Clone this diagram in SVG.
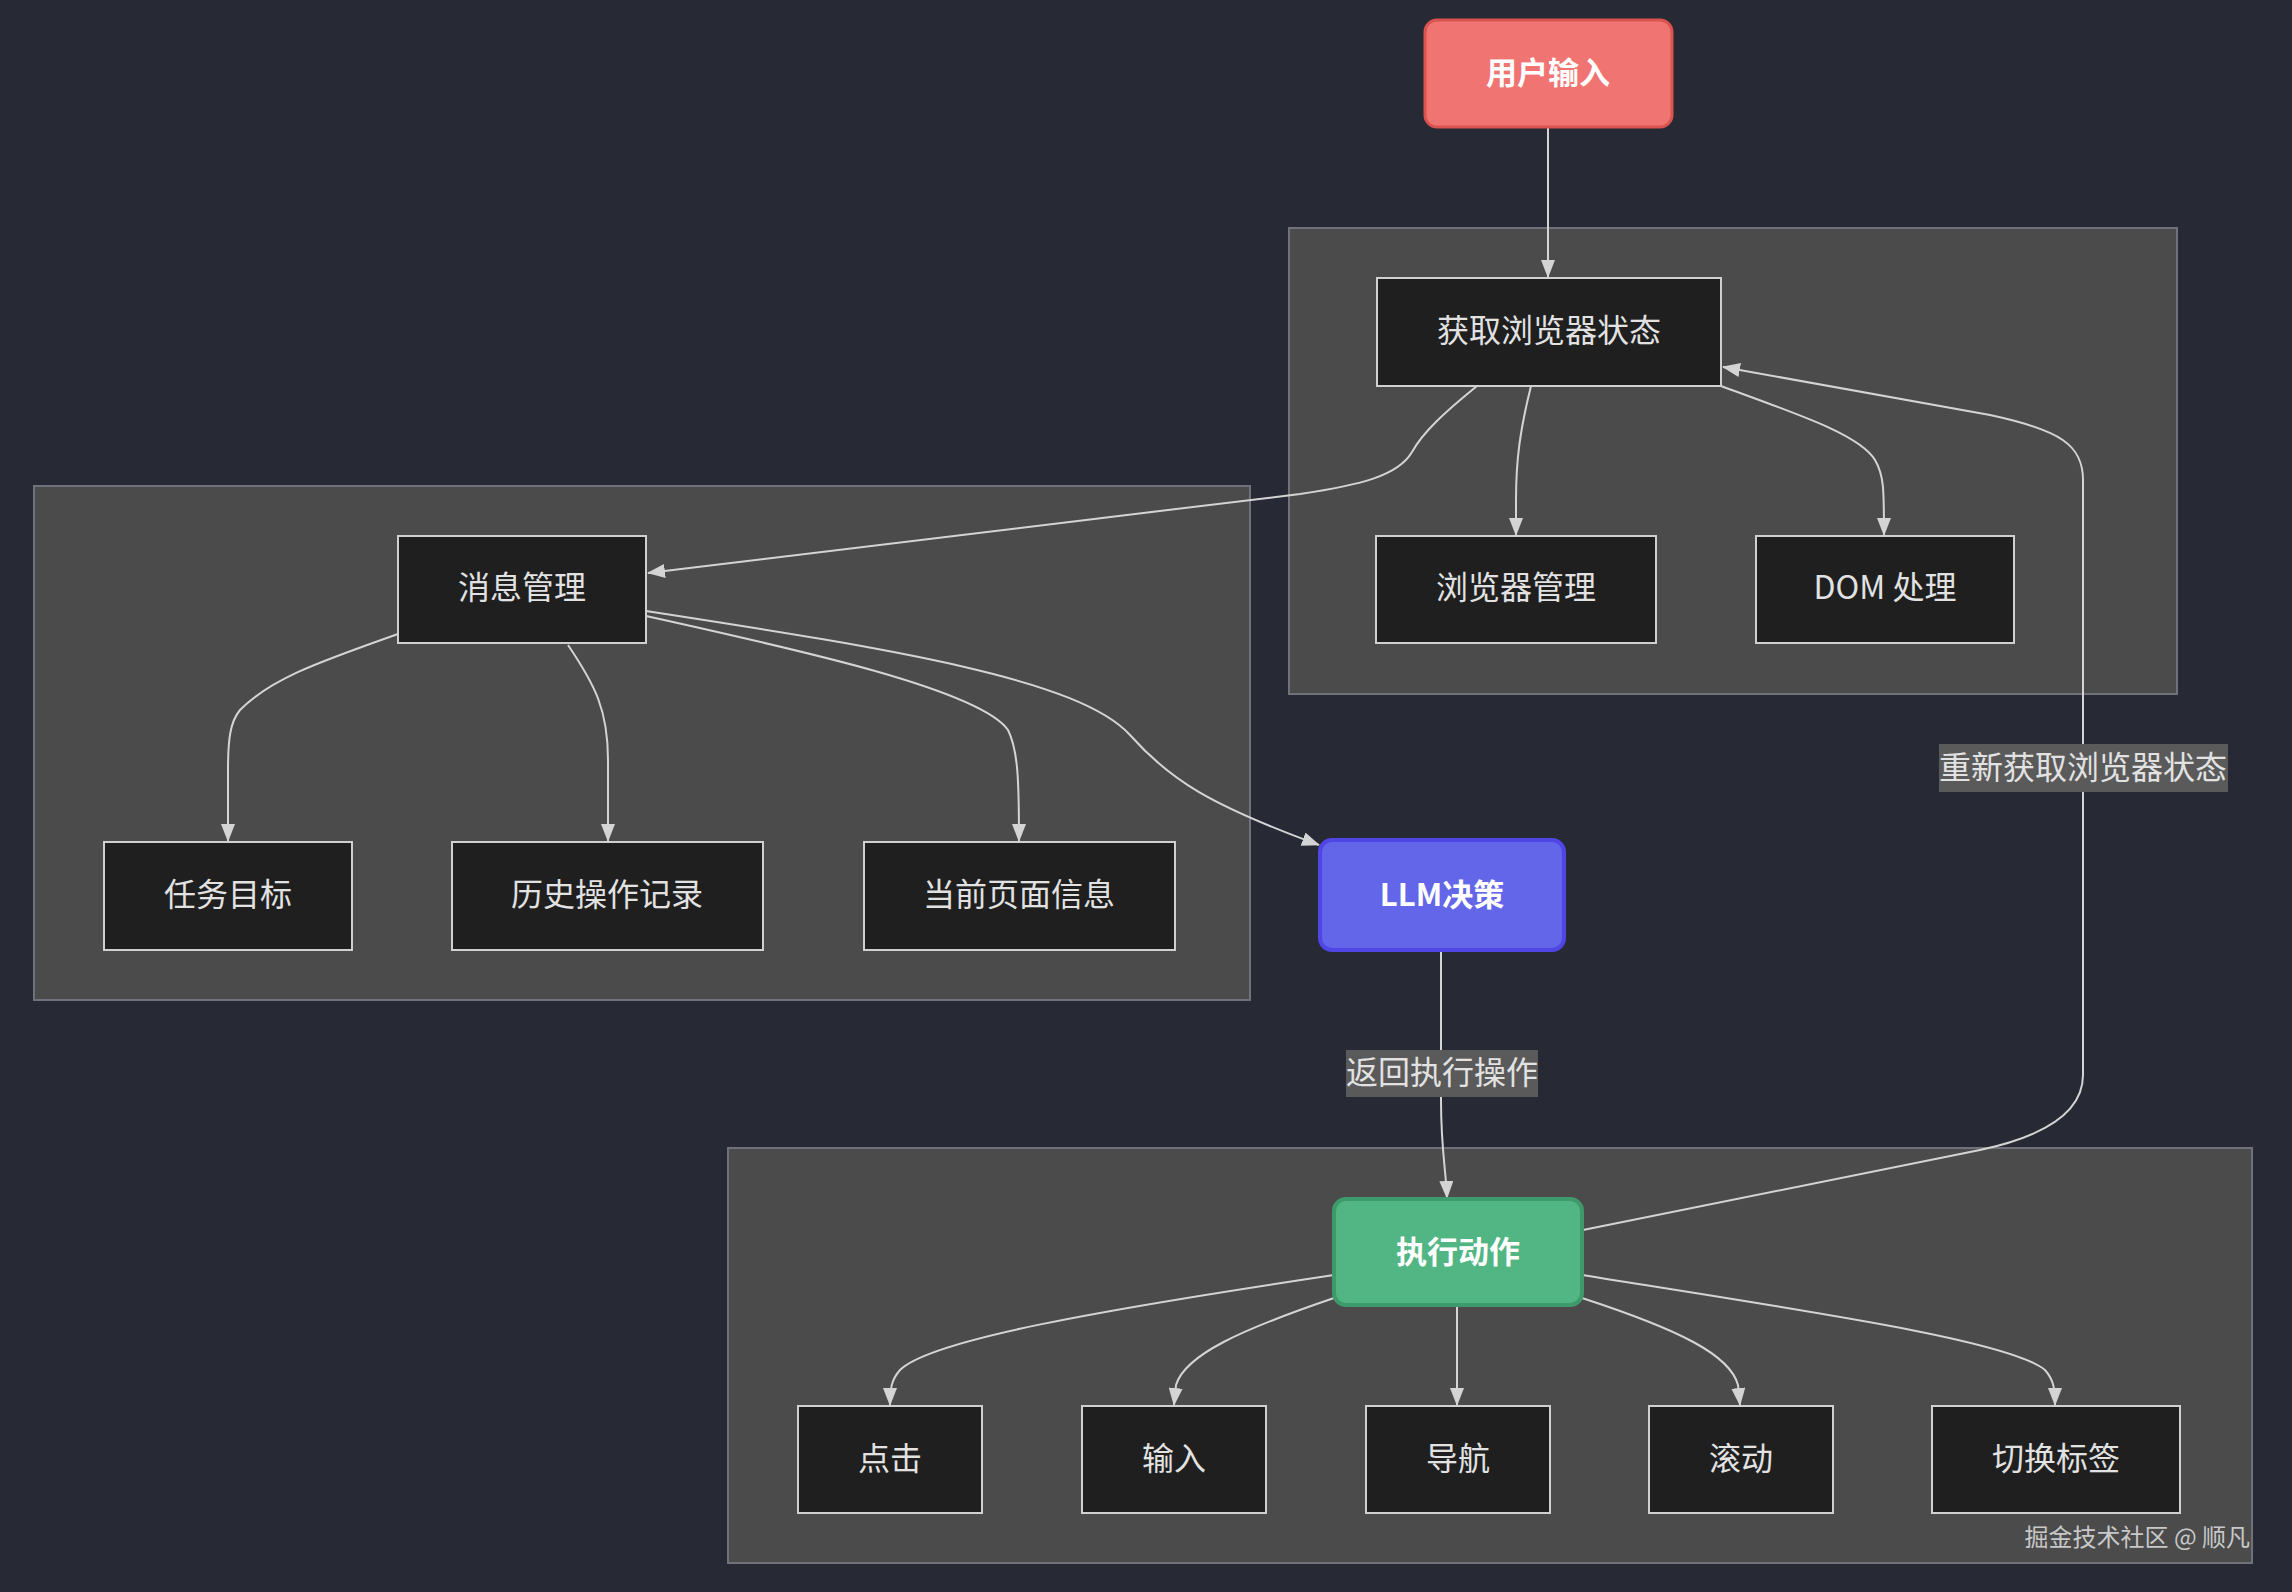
<svg xmlns="http://www.w3.org/2000/svg" width="2292" height="1592" viewBox="0 0 2292 1592">
<defs>
<marker id="arr" viewBox="0 0 18 14" refX="17" refY="7" markerWidth="18" markerHeight="14" markerUnits="userSpaceOnUse" orient="auto">
<path d="M0,0 L18,7 L0,14 z" fill="#d4d4d4"/>
</marker>
<style>
.cl{fill:#4b4b4b;stroke:#70717a;stroke-width:2}
.nd{fill:#1f1f1f;stroke:#d0d0d0;stroke-width:2}
.t{font-family:"Noto Sans CJK SC","Noto Sans",sans-serif;font-size:32px;fill:#e2e2e2;text-anchor:middle;dominant-baseline:central}
.tb{font-family:"Noto Sans CJK SC","Noto Sans",sans-serif;font-size:31px;font-weight:bold;fill:#ffffff;text-anchor:middle;dominant-baseline:central}
.e{fill:none;stroke:#d4d4d4;stroke-width:2;marker-end:url(#arr)}
.lb{fill:#5a5a5a}
</style>
</defs>
<rect width="2292" height="1592" fill="#272935"/>
<g id="clusters">
<rect class="cl" x="1289" y="228" width="888" height="466"/>
<rect class="cl" x="34" y="486" width="1216" height="514"/>
<rect class="cl" x="728" y="1148" width="1524" height="415"/>
</g>
<g id="connectors">
<path class="e" d="M1548,127 L1548,277"/>
<path class="e" d="M1477,386 C1445,412 1423,432 1412,452 C1398,476 1360,485 1300,494 L648,573"/>
<path class="e" d="M1531,386 C1520,430 1516,460 1516,500 L1516,535"/>
<path class="e" d="M1721,386 C1800,415 1860,435 1875,460 C1884,475 1884,490 1884,535"/>
<path class="e" d="M1583,1230 L1980,1150 C2050,1135 2083,1110 2083,1075 L2083,480 C2083,445 2060,430 1990,415 L1723,367"/>
<path class="e" d="M398,634 C310,665 270,680 240,710 C230,722 228,740 228,770 L228,841"/>
<path class="e" d="M568,645 C595,685 608,710 608,760 L608,841"/>
<path class="e" d="M646,616 C800,650 980,690 1008,730 C1018,750 1019,780 1019,841"/>
<path class="e" d="M646,611 C900,650 1080,680 1130,735 C1170,780 1210,805 1319,845"/>
<path class="e" d="M1441,950 L1441,1100 C1441,1150 1446,1170 1447,1198"/>
<path class="e" d="M1334,1275 C1100,1310 930,1340 900,1370 C891,1380 890,1390 890,1405"/>
<path class="e" d="M1334,1298 C1240,1330 1185,1355 1176,1385 L1174,1405"/>
<path class="e" d="M1457,1305 L1457,1405"/>
<path class="e" d="M1582,1298 C1680,1330 1730,1355 1738,1385 L1740,1405"/>
<path class="e" d="M1582,1275 C1800,1310 2010,1340 2045,1370 C2054,1380 2055,1390 2055,1405"/>
</g>
<g id="edge-labels">
<rect class="lb" x="1939" y="744" width="289" height="48"/>
<text class="t" x="2083" y="765">重新获取浏览器状态</text>
<rect class="lb" x="1346" y="1050" width="192" height="47"/>
<text class="t" x="1442" y="1070">返回执行操作</text>
</g>
<g id="user-input">
<rect x="1425" y="20" width="247" height="107" rx="12" fill="#f07572" stroke="#d9534f" stroke-width="3"/>
<text class="tb" x="1548" y="70">用户输入</text>
</g>
<g id="get-state">
<rect class="nd" x="1377" y="278" width="344" height="108"/>
<text class="t" x="1549" y="328">获取浏览器状态</text>
</g>
<g id="browser-mgmt">
<rect class="nd" x="1376" y="536" width="280" height="107"/>
<text class="t" x="1516" y="585">浏览器管理</text>
</g>
<g id="dom">
<rect class="nd" x="1756" y="536" width="258" height="107"/>
<text class="t" x="1885" y="585">DOM 处理</text>
</g>
<g id="msg-mgmt">
<rect class="nd" x="398" y="536" width="248" height="107"/>
<text class="t" x="522" y="585">消息管理</text>
</g>
<g id="task-goal">
<rect class="nd" x="104" y="842" width="248" height="108"/>
<text class="t" x="228" y="892">任务目标</text>
</g>
<g id="history">
<rect class="nd" x="452" y="842" width="311" height="108"/>
<text class="t" x="607" y="892">历史操作记录</text>
</g>
<g id="page-info">
<rect class="nd" x="864" y="842" width="311" height="108"/>
<text class="t" x="1019" y="892">当前页面信息</text>
</g>
<g id="llm">
<rect x="1320" y="840" width="244" height="110" rx="12" fill="#6366e8" stroke="#4f46e5" stroke-width="4"/>
<text class="tb" x="1442" y="892">LLM决策</text>
</g>
<g id="execute">
<rect x="1334" y="1199" width="248" height="106" rx="12" fill="#52b584" stroke="#3f9a6b" stroke-width="4"/>
<text class="tb" x="1458" y="1249">执行动作</text>
</g>
<g id="click">
<rect class="nd" x="798" y="1406" width="184" height="107"/>
<text class="t" x="890" y="1456">点击</text>
</g>
<g id="input">
<rect class="nd" x="1082" y="1406" width="184" height="107"/>
<text class="t" x="1174" y="1456">输入</text>
</g>
<g id="navigate">
<rect class="nd" x="1366" y="1406" width="184" height="107"/>
<text class="t" x="1458" y="1456">导航</text>
</g>
<g id="scroll">
<rect class="nd" x="1649" y="1406" width="184" height="107"/>
<text class="t" x="1741" y="1456">滚动</text>
</g>
<g id="switch-tab">
<rect class="nd" x="1932" y="1406" width="248" height="107"/>
<text class="t" x="2056" y="1456">切换标签</text>
</g>
<text x="2250" y="1546" font-family="Noto Sans CJK SC, Noto Sans, sans-serif" font-size="24" fill="#c8c8c8" text-anchor="end">掘金技术社区 @ 顺凡</text>
</svg>
